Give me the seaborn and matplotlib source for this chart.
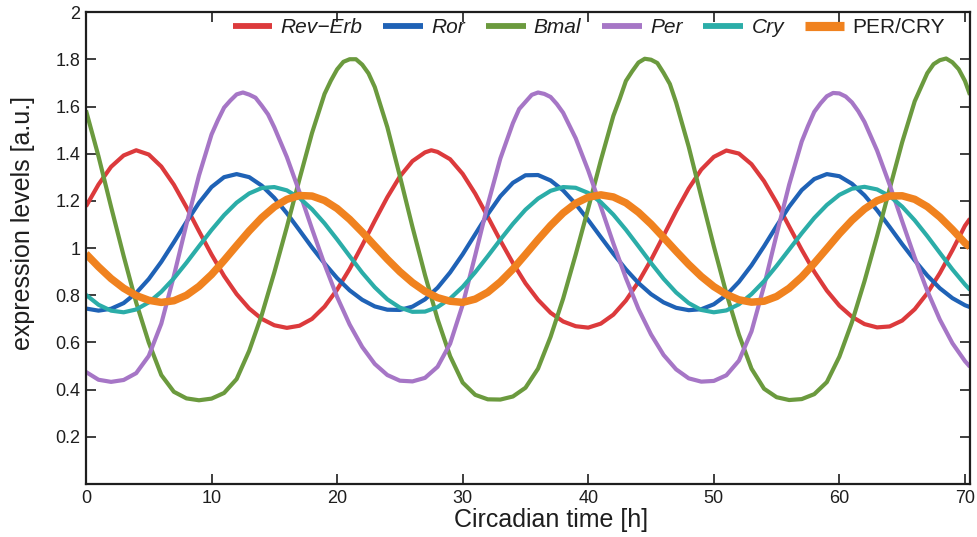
import matplotlib
matplotlib.use("Agg")
import matplotlib.pyplot as plt
import seaborn as sns
import pandas as pd

# Simulated clock-gene expression over three circadian cycles (hourly samples)
hours = list(range(71)) + [70.4]

rev_erb = [1.177, 1.270, 1.345, 1.393, 1.415, 1.397, 1.346, 1.269, 1.174, 1.072,
           0.973, 0.882, 0.805, 0.744, 0.700, 0.673, 0.662, 0.671, 0.700, 0.752,
           0.824, 0.912, 1.012, 1.116, 1.216, 1.304, 1.369, 1.406, 1.408, 1.377,
           1.315, 1.231, 1.133, 1.032, 0.937, 0.851, 0.781, 0.726, 0.689, 0.669,
           0.663, 0.680, 0.718, 0.778, 0.857, 0.950, 1.053, 1.157, 1.253, 1.333,
           1.387, 1.414, 1.401, 1.356, 1.284, 1.193, 1.092, 0.993, 0.900, 0.820,
           0.756, 0.709, 0.678, 0.664, 0.668, 0.693, 0.741, 0.809, 0.894, 0.991,
           1.095, 1.125]

ror = [0.744, 0.735, 0.743, 0.767, 0.810, 0.869, 0.942, 1.025, 1.111, 1.192,
       1.259, 1.301, 1.314, 1.301, 1.265, 1.213, 1.148, 1.076, 1.003, 0.935,
       0.873, 0.821, 0.781, 0.753, 0.739, 0.738, 0.752, 0.783, 0.832, 0.897,
       0.974, 1.059, 1.144, 1.220, 1.277, 1.309, 1.310, 1.287, 1.245, 1.187,
       1.119, 1.047, 0.976, 0.910, 0.852, 0.805, 0.770, 0.747, 0.737, 0.741,
       0.762, 0.801, 0.857, 0.927, 1.008, 1.094, 1.176, 1.246, 1.293, 1.314,
       1.305, 1.273, 1.224, 1.161, 1.090, 1.017, 0.948, 0.884, 0.830, 0.788,
       0.758, 0.750]

bmal = [1.584, 1.389, 1.175, 0.967, 0.769, 0.600, 0.462, 0.391, 0.363, 0.355,
        0.362, 0.386, 0.445, 0.565, 0.717, 0.897, 1.090, 1.292, 1.488, 1.654,
        1.758, 1.801, 1.778, 1.683, 1.513, 1.305, 1.090, 0.886, 0.699, 0.542,
        0.430, 0.378, 0.359, 0.358, 0.371, 0.408, 0.489, 0.624, 0.786, 0.973,
        1.169, 1.372, 1.561, 1.709, 1.787, 1.799, 1.743, 1.617, 1.430, 1.218,
        1.008, 0.808, 0.633, 0.489, 0.404, 0.368, 0.356, 0.360, 0.381, 0.432,
        0.540, 0.686, 0.860, 1.051, 1.251, 1.449, 1.623, 1.742, 1.797, 1.788,
        1.709, 1.650]

per = [0.475, 0.442, 0.433, 0.441, 0.470, 0.543, 0.680, 0.882, 1.101, 1.308,
       1.482, 1.596, 1.652, 1.651, 1.604, 1.512, 1.386, 1.238, 1.082, 0.931,
       0.793, 0.676, 0.581, 0.509, 0.462, 0.438, 0.435, 0.450, 0.497, 0.595,
       0.760, 0.970, 1.185, 1.380, 1.530, 1.620, 1.660, 1.641, 1.574, 1.466,
       1.329, 1.176, 1.020, 0.873, 0.742, 0.634, 0.547, 0.486, 0.448, 0.434,
       0.437, 0.461, 0.523, 0.647, 0.840, 1.058, 1.269, 1.452, 1.578, 1.644,
       1.656, 1.618, 1.535, 1.414, 1.269, 1.114, 0.960, 0.819, 0.697, 0.597,
       0.521, 0.497]

cry = [0.802, 0.760, 0.735, 0.728, 0.740, 0.770, 0.815, 0.872, 0.938, 1.008,
       1.077, 1.140, 1.193, 1.232, 1.255, 1.259, 1.245, 1.213, 1.165, 1.105,
       1.037, 0.966, 0.896, 0.834, 0.783, 0.748, 0.730, 0.731, 0.750, 0.786,
       0.836, 0.898, 0.966, 1.036, 1.103, 1.163, 1.210, 1.243, 1.259, 1.256,
       1.234, 1.195, 1.142, 1.078, 1.008, 0.937, 0.870, 0.812, 0.767, 0.738,
       0.728, 0.736, 0.762, 0.805, 0.860, 0.925, 0.994, 1.063, 1.128, 1.183,
       1.226, 1.252, 1.260, 1.249, 1.221, 1.176, 1.118, 1.051, 0.980, 0.910,
       0.846, 0.823]

per_cry = [0.976, 0.921, 0.871, 0.830, 0.799, 0.779, 0.770, 0.777, 0.800, 0.838,
           0.888, 0.948, 1.011, 1.073, 1.129, 1.175, 1.207, 1.223, 1.221, 1.202,
           1.168, 1.122, 1.068, 1.010, 0.953, 0.900, 0.854, 0.817, 0.790, 0.775,
           0.770, 0.784, 0.813, 0.857, 0.911, 0.973, 1.036, 1.096, 1.149, 1.190,
           1.216, 1.226, 1.217, 1.192, 1.152, 1.102, 1.045, 0.987, 0.931, 0.880,
           0.837, 0.804, 0.781, 0.771, 0.775, 0.795, 0.830, 0.878, 0.936, 0.998,
           1.061, 1.118, 1.166, 1.201, 1.221, 1.222, 1.207, 1.176, 1.132, 1.079,
           1.022, 1.005]

# Extra half-hour samples around the sharpest maxima
rev_erb_peak_t = [27.5]
rev_erb_peak_v = [1.415]
bmal_peak_t = [19.5, 20.5, 21.5, 22.5, 42.5, 43.5, 44.5, 45.5, 46.5, 67.5, 68.5, 69.5]
bmal_peak_v = [1.710, 1.790, 1.801, 1.741, 1.632, 1.750, 1.803, 1.785, 1.696, 1.780, 1.804, 1.759]
per_peak_t = [10.5, 11.5, 12.5, 13.5, 14.5, 34.5, 35.5, 36.5, 37.5, 57.5, 58.5, 59.5, 60.5, 61.5]
per_peak_v = [1.542, 1.626, 1.660, 1.638, 1.567, 1.590, 1.650, 1.654, 1.611, 1.518, 1.614, 1.658, 1.643, 1.581]

names = ["Rev\u2212Erb", "Ror", "Bmal", "Per", "Cry", "PER/CRY"]
values = [rev_erb, ror, bmal, per, cry, per_cry]
extra_t = [rev_erb_peak_t, [], bmal_peak_t, per_peak_t, [], []]
extra_v = [rev_erb_peak_v, [], bmal_peak_v, per_peak_v, [], []]
colors = ["#dc3a3c", "#1f62b6", "#6b9a3e", "#a676c6", "#2bada8", "#f0821f"]
widths = [3.0, 3.0, 3.0, 3.0, 3.0, 5.4]
italic = [True, True, True, True, True, False]

x_ticks = [0, 10, 20, 30, 40, 50, 60, 70]
y_ticks = [0.2, 0.4, 0.6, 0.8, 1.0, 1.2, 1.4, 1.6, 1.8, 2.0]
y_tick_labels = ["0.2", "0.4", "0.6", "0.8", "1", "1.2", "1.4", "1.6", "1.8", "2"]

sns.set_theme(style="ticks")
plt.rcParams["font.family"] = ["Liberation Sans", "DejaVu Sans"]

fig = plt.figure(figsize=(9.78, 5.37), dpi=100)
ax = fig.add_axes([0.0879, 0.0987, 0.9039, 0.8784])

for name, vals, et, ev, color, lw in zip(names, values, extra_t, extra_v, colors, widths):
    df = pd.DataFrame({"time": hours + et, "level": vals + ev})
    sns.lineplot(data=df, x="time", y="level", ax=ax, color=color,
                 linewidth=lw, label=name, estimator=None, sort=True)
for line in ax.get_lines():
    line.set_solid_joinstyle("round")
    line.set_solid_capstyle("butt")

ax.set_xlim(0, 70.4)
ax.set_ylim(0, 2)
ax.set_xticks(x_ticks)
ax.set_xticklabels([str(v) for v in x_ticks])
ax.set_yticks(y_ticks)
ax.set_yticklabels(y_tick_labels)

ink = "#1e1e1e"
for side in ["left", "right", "top", "bottom"]:
    ax.spines[side].set_visible(True)
    ax.spines[side].set_linewidth(1.6)
    ax.spines[side].set_color(ink)
ax.tick_params(direction="in", top=True, right=True, length=7, width=1.2,
               color=ink, labelcolor=ink, labelsize=13, pad=4)

ax.set_xlabel("Circadian time [h]", fontsize=18, color=ink)
ax.set_ylabel("expression levels [a.u.]", fontsize=18, color=ink)
ax.xaxis.set_label_coords(0.526, -0.05)
ax.yaxis.set_label_coords(-0.058, 0.553)

leg = ax.legend(loc="center right", bbox_to_anchor=(0.972, 0.968), ncol=6,
                frameon=False, fontsize=15, handlelength=1.9,
                handletextpad=0.4, columnspacing=1.0, borderpad=0,
                borderaxespad=0)
for txt, it in zip(leg.get_texts(), italic):
    txt.set_color(ink)
    if it:
        txt.set_fontstyle("italic")
for hl, lw in zip(leg.get_lines(), widths):
    hl.set_linewidth(lw + 1.2)

fig.savefig("out.png", dpi=100)
